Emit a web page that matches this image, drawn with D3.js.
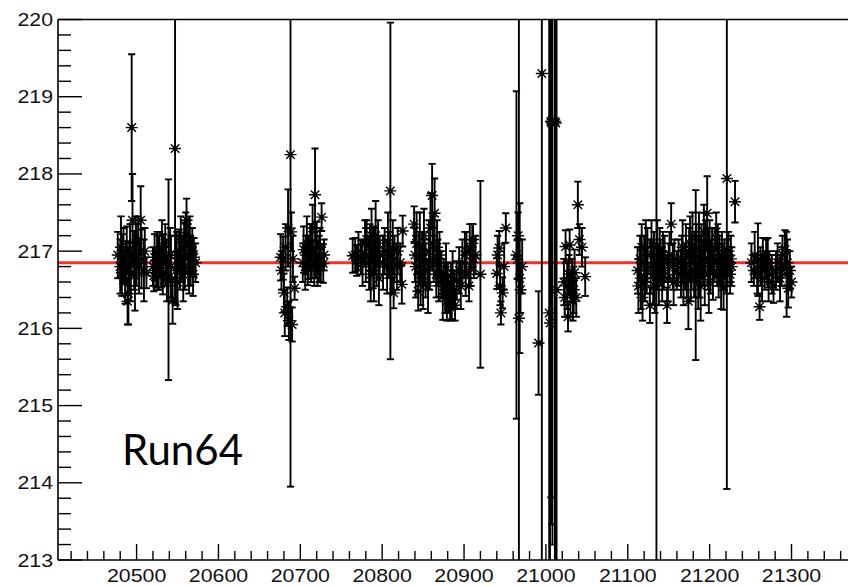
<!DOCTYPE html>
<html>
<head>
<meta charset="utf-8">
<script src="https://cdn.jsdelivr.net/npm/d3@7/dist/d3.min.js"></script>
<style>
  html, body { margin: 0; padding: 0; background: #fff; }
  svg { display: block; }
</style>
</head>
<body>
<svg id="chart" width="848" height="586"></svg>
<script>
// ---------------- data ----------------
const runs = [
  // block 20480-20572
  20477,20480,20481,20482,20483,20484,20486,20487,20488,20489,
  20491,20492,20493,20494,20495,20497,20498,20490,20499,20500,
  20502,20503,20505,20506,20509,20510,20512,20520,20521,20522,
  20524,20525,20526,20527,20528,20530,20531,20532,20533,20535,
  20536,20537,20539,20541,20542,20544,20547,20548,20549,20550,
  20552,20553,20554,20555,20557,20558,20559,20560,20561,20563,
  20564,20565,20566,20568,20569,20570,20572,
  // block 20676-20729
  20676,20677,20679,20680,20681,20682,20684,20685,20686,20688,
  20689,20690,20691,20693,20703,20704,20706,20707,20708,20709,
  20710,20712,20713,20714,20715,20717,20718,20719,20720,20721,
  20723,20724,20725,20726,20728,20729,
  // block 20764-20920
  20764,20767,20769,20771,20774,20776,20779,20780,20781,20784,
  20785,20786,20787,20789,20790,20791,20792,20793,20795,20796,
  20797,20801,20803,20806,20807,20808,20810,20812,20813,20814,
  20815,20818,20819,20822,20824,20825,20839,20840,20841,20842,
  20844,20845,20846,20847,20849,20850,20851,20852,20853,20856,
  20857,20858,20859,20861,20862,20863,20864,20866,20867,20868,
  20869,20870,20872,20874,20875,20877,20878,20879,20880,20881,
  20883,20884,20885,20886,20888,20889,20891,20894,20896,20898,
  20901,20902,20903,20906,20907,20908,20910,20911,20912,20914,
  20920,
  // block 20940-21048
  20940,20941,20943,20944,20945,20947,20949,20951,20964,20966,
  20965,20967,20968,20969,20971,20991,20995,21004,21005,21006,
  21008,21011,21013,21022,21023,21024,21026,21027,21028,21029,
  21030,21032,21033,21034,21035,21037,21039,21041,21044,21048,
  21007,21012,
  // block 21112-21231
  21112,21113,21115,21116,21117,21118,21120,21121,21122,21123,
  21124,21127,21128,21129,21131,21132,21133,21135,21136,21137,
  21138,21139,21140,21142,21143,21144,21145,21148,21149,21150,
  21151,21153,21155,21156,21157,21160,21162,21165,21166,21167,
  21168,21170,21171,21172,21174,21175,21176,21177,21178,21179,
  21181,21182,21183,21184,21186,21187,21188,21189,21190,21192,
  21193,21194,21195,21197,21198,21199,21200,21201,21203,21204,
  21206,21208,21209,21210,21211,21212,21214,21215,21216,21217,
  21218,21220,21221,21222,21223,21225,21226,21227,21231,
  // block 21251-21300
  21251,21254,21255,21258,21259,21261,21262,21264,21265,21267,
  21269,21271,21272,21273,21276,21278,21281,21283,21286,21288,
  21289,21292,21294,21295,21296,21298,21300
];

const values = [
  216.95,216.80,217.05,216.72,216.90,216.95,216.62,216.85,217.02,216.35,
  216.78,216.95,216.70,218.60,217.40,216.88,216.68,216.45,217.10,216.95,
  217.15,216.80,217.40,216.90,216.75,217.00,216.72,216.80,216.68,216.92,
  216.75,217.00,216.70,216.85,216.95,216.78,217.05,216.72,216.90,217.10,
  216.85,216.65,216.63,216.95,216.80,216.36,218.33,216.75,216.95,216.60,
  217.00,216.85,217.15,216.90,216.70,217.05,216.80,217.20,217.40,216.95,
  216.75,217.10,216.88,217.00,216.70,216.92,216.85,

  216.92,216.75,216.91,216.46,216.20,217.05,216.28,217.30,216.10,218.25,
  217.25,216.05,216.90,216.52,216.85,217.02,216.80,216.95,217.10,216.78,
  216.92,217.05,216.85,217.00,217.30,216.80,217.73,216.95,217.10,216.75,
  216.90,217.05,216.82,217.44,216.84,216.95,

  216.94,216.95,216.88,217.00,216.92,216.85,217.10,216.95,217.15,216.85,
  217.05,216.70,217.20,216.92,216.75,217.00,217.20,216.85,217.10,216.65,
  216.95,216.85,217.00,216.80,217.10,216.95,217.78,216.75,217.05,216.46,
  216.90,216.80,217.00,216.85,216.57,217.26,217.35,216.95,216.80,217.10,
  216.48,216.90,217.05,216.70,216.95,216.60,217.20,216.85,216.75,216.55,
  217.00,216.80,217.30,217.72,217.10,216.90,217.49,216.70,217.05,216.85,
  216.60,216.95,216.72,216.41,216.65,216.50,216.80,216.35,216.55,216.45,
  216.28,216.60,216.40,216.70,216.50,216.30,216.62,216.75,216.55,216.85,
  216.95,216.70,217.00,216.55,217.05,216.80,217.10,217.15,216.90,216.95,
  216.70,

  216.71,216.95,217.04,216.55,216.20,216.46,216.80,217.30,216.95,217.20,
  216.89,216.13,216.65,216.50,216.80,215.81,219.30,216.20,216.07,218.68,
  218.70,218.68,216.50,216.60,216.40,217.06,216.55,216.15,216.70,217.08,
  216.45,216.62,216.35,216.50,216.72,216.40,217.60,217.15,217.05,216.67,
  218.66,218.66,

  216.75,216.55,216.90,216.65,217.05,216.40,216.85,216.60,217.00,216.75,
  216.95,216.30,216.80,217.10,216.70,216.95,216.55,216.80,217.05,216.80,
  216.60,217.00,216.85,216.70,216.95,216.75,216.90,216.30,216.65,216.85,
  216.95,217.35,216.80,216.60,216.90,216.75,216.85,216.70,216.90,217.05,
  216.60,216.80,217.00,216.70,216.35,216.95,217.10,216.65,216.85,217.20,
  216.75,216.95,216.69,217.05,216.60,217.15,216.80,216.55,217.00,216.85,
  217.25,216.70,217.05,217.49,216.90,216.60,217.10,216.80,217.00,216.72,
  216.90,217.25,216.85,217.05,216.70,216.90,216.60,216.95,216.80,216.54,
  216.90,216.75,217.94,216.85,217.00,216.70,216.90,216.80,217.64,

  216.85,216.75,216.95,216.70,216.89,216.28,216.80,216.65,216.95,216.75,
  216.90,216.85,216.60,216.80,216.70,216.55,216.75,216.85,216.65,216.80,
  216.95,217.02,216.70,216.85,216.52,216.75,216.60
];

const errors = [
  0.30,0.35,0.40,0.30,0.32,0.35,0.30,0.28,0.30,0.30,
  0.33,0.40,0.35,0.95,0.60,0.38,0.45,0.40,0.35,0.40,
  0.30,0.35,0.44,0.38,0.40,0.30,0.20,0.25,0.20,0.30,
  0.22,0.25,0.20,0.35,0.30,0.25,0.35,0.28,0.32,0.25,
  0.30,0.30,1.30,0.35,0.40,0.30,2.00,0.45,0.30,0.35,
  0.28,0.35,0.30,0.30,0.35,0.32,0.30,0.30,0.28,0.40,
  0.30,0.35,0.32,0.30,0.28,0.25,0.25,

  0.30,0.25,0.28,0.25,0.30,0.30,0.25,0.50,0.25,4.30,
  0.25,0.22,0.30,0.15,0.25,0.30,0.30,0.25,0.35,0.22,
  0.28,0.30,0.25,0.35,0.30,0.25,0.60,0.30,0.28,0.20,
  0.30,0.25,0.22,0.18,0.25,0.20,

  0.22,0.22,0.20,0.25,0.22,0.30,0.30,0.35,0.25,0.35,
  0.30,0.35,0.35,0.40,0.40,0.30,0.45,0.30,0.30,0.35,
  0.25,0.35,0.30,0.35,0.40,0.30,2.18,0.30,0.35,0.20,
  0.30,0.30,0.30,0.25,0.25,0.20,0.23,0.35,0.40,0.40,
  0.25,0.35,0.45,0.40,0.30,0.35,0.35,0.30,0.35,0.35,
  0.40,0.30,0.45,0.41,0.35,0.30,0.45,0.30,0.35,0.30,
  0.25,0.30,0.28,0.30,0.25,0.30,0.30,0.25,0.30,0.25,
  0.18,0.25,0.28,0.30,0.25,0.20,0.25,0.30,0.30,0.30,
  0.30,0.28,0.25,0.20,0.30,0.25,0.25,0.20,0.25,0.25,
  1.21,

  0.20,0.25,0.22,0.25,0.15,0.20,0.30,0.19,2.12,0.30,
  0.25,5.00,0.97,0.30,0.35,0.67,7.00,6.00,6.50,4.87,
  5.50,6.00,5.00,0.30,0.25,0.21,0.30,0.19,0.25,0.20,
  0.30,0.28,0.25,0.30,0.30,0.25,0.30,0.20,0.25,0.25,
  5.20,6.00,

  0.30,0.35,0.30,0.40,0.30,0.30,0.35,0.25,0.40,0.30,
  0.35,0.23,0.35,0.30,0.40,0.30,0.35,5.00,0.35,0.30,
  0.30,0.30,0.30,0.35,0.30,0.25,0.30,0.23,0.30,0.25,
  0.30,0.27,0.30,0.30,0.25,0.25,0.30,0.30,0.30,0.35,
  0.30,0.30,0.35,0.30,0.36,0.35,0.35,0.30,0.35,0.30,
  0.35,0.30,1.10,0.30,0.35,0.35,0.40,0.45,0.35,0.30,
  0.35,0.40,0.35,0.48,0.40,0.40,0.30,0.35,0.30,0.35,
  0.30,0.25,0.30,0.30,0.30,0.30,0.35,0.30,0.30,0.30,
  0.25,0.30,4.02,0.30,0.25,0.25,0.30,0.25,0.27,

  0.25,0.20,0.30,0.25,0.47,0.17,0.25,0.30,0.22,0.25,
  0.25,0.32,0.25,0.20,0.25,0.22,0.25,0.25,0.30,0.25,
  0.25,0.25,0.55,0.30,0.25,0.25,0.20
];

const fitValue = 216.85;
const xDomain = [20404, 21369];
const yDomain = [213, 220];
const xTickLabels = [20500, 20600, 20700, 20800, 20900, 21000, 21100, 21200, 21300];
const yTickLabels = [213, 214, 215, 216, 217, 218, 219, 220];
const runLabel = "Run64";

// ---------------- drawing ----------------
const svg = d3.select("#chart");
const L = 58, R = 848, T = 19.5, B = 560;

const x = d3.scaleLinear().domain(xDomain).range([L, R]);
const y = d3.scaleLinear().domain(yDomain).range([B, T]);

const data = runs.map((r, i) => ({ run: r, v: values[i], e: errors[i] }));

svg.append("defs").append("clipPath").attr("id", "plotclip")
  .append("rect").attr("x", L).attr("y", T).attr("width", R - L).attr("height", B - T);

// fit line
svg.append("line")
  .attr("x1", L).attr("x2", R)
  .attr("y1", y(fitValue)).attr("y2", y(fitValue))
  .attr("stroke", "#e8352b").attr("stroke-width", 2.8);

const g = svg.append("g").attr("clip-path", "url(#plotclip)");

// error bars
const capW = 3.6;
const sw = 1.9;
const eb = g.selectAll("g.eb").data(data).enter().append("g").attr("class", "eb");
eb.append("line")
  .attr("x1", d => x(d.run)).attr("x2", d => x(d.run))
  .attr("y1", d => y(d.v + d.e)).attr("y2", d => y(d.v - d.e))
  .attr("stroke", "#000").attr("stroke-width", sw);
eb.append("line")
  .attr("x1", d => x(d.run) - capW).attr("x2", d => x(d.run) + capW)
  .attr("y1", d => y(d.v + d.e)).attr("y2", d => y(d.v + d.e))
  .attr("stroke", "#000").attr("stroke-width", sw);
eb.append("line")
  .attr("x1", d => x(d.run) - capW).attr("x2", d => x(d.run) + capW)
  .attr("y1", d => y(d.v - d.e)).attr("y2", d => y(d.v - d.e))
  .attr("stroke", "#000").attr("stroke-width", sw);

// star markers
const r = 6, dd = r * 0.707;
const starPath = `M${-r},0L${r},0M0,${-r}L0,${r}M${-dd},${-dd}L${dd},${dd}M${-dd},${dd}L${dd},${-dd}`;
const mk = g.selectAll("g.mk").data(data).enter().append("g").attr("class", "mk")
  .attr("transform", d => `translate(${x(d.run)},${y(d.v)})`);
mk.append("path").attr("d", starPath).attr("stroke", "#000").attr("stroke-width", 1.4).attr("fill", "none");
mk.append("circle").attr("r", 2.2).attr("fill", "#000");

// frame
const frame = svg.append("g").attr("stroke", "#000").attr("stroke-width", 1.6).attr("fill", "none");
frame.append("line").attr("x1", L).attr("x2", R).attr("y1", T).attr("y2", T);
frame.append("line").attr("x1", L).attr("x2", R).attr("y1", B).attr("y2", B);
frame.append("line").attr("x1", L).attr("x2", L).attr("y1", T).attr("y2", B);

// x ticks
const xTicks = d3.range(20420, 21369, 20);
svg.append("g").selectAll("line").data(xTicks).enter().append("line")
  .attr("x1", d => x(d)).attr("x2", d => x(d))
  .attr("y1", B).attr("y2", d => B - (d % 100 === 0 ? 16 : 9))
  .attr("stroke", "#000").attr("stroke-width", 1.4);

// y ticks
const yTicks = d3.range(0, 36).map(i => 213 + i * 0.2);
svg.append("g").selectAll("line").data(yTicks).enter().append("line")
  .attr("x1", L).attr("x2", (d, i) => L + (i % 5 === 0 ? 24 : 13))
  .attr("y1", d => y(d)).attr("y2", d => y(d))
  .attr("stroke", "#000").attr("stroke-width", 1.4);

// tick labels
const fontFam = "'Liberation Sans', Arial, Helvetica, sans-serif";
svg.append("g").selectAll("text").data(xTickLabels).enter().append("text")
  .attr("transform", d => `translate(${x(d)},582) scale(1.22,1)`)
  .attr("text-anchor", "middle")
  .attr("font-family", fontFam).attr("font-size", 17.5)
  .attr("fill", "#111")
  .text(d => d);

svg.append("g").selectAll("text").data(yTickLabels).enter().append("text")
  .attr("transform", d => `translate(53,${y(d) + 6.5}) scale(1.22,1)`)
  .attr("text-anchor", "end")
  .attr("font-family", fontFam).attr("font-size", 17.5)
  .attr("fill", "#111")
  .text(d => d);

// Run label
svg.append("text")
  .attr("x", 122).attr("y", 465)
  .attr("font-family", "Lato, 'Open Sans', sans-serif")
  .attr("font-size", 43)
  .attr("textLength", 121).attr("lengthAdjust", "spacingAndGlyphs")
  .attr("fill", "#000")
  .text(runLabel);
</script>
</body>
</html>
